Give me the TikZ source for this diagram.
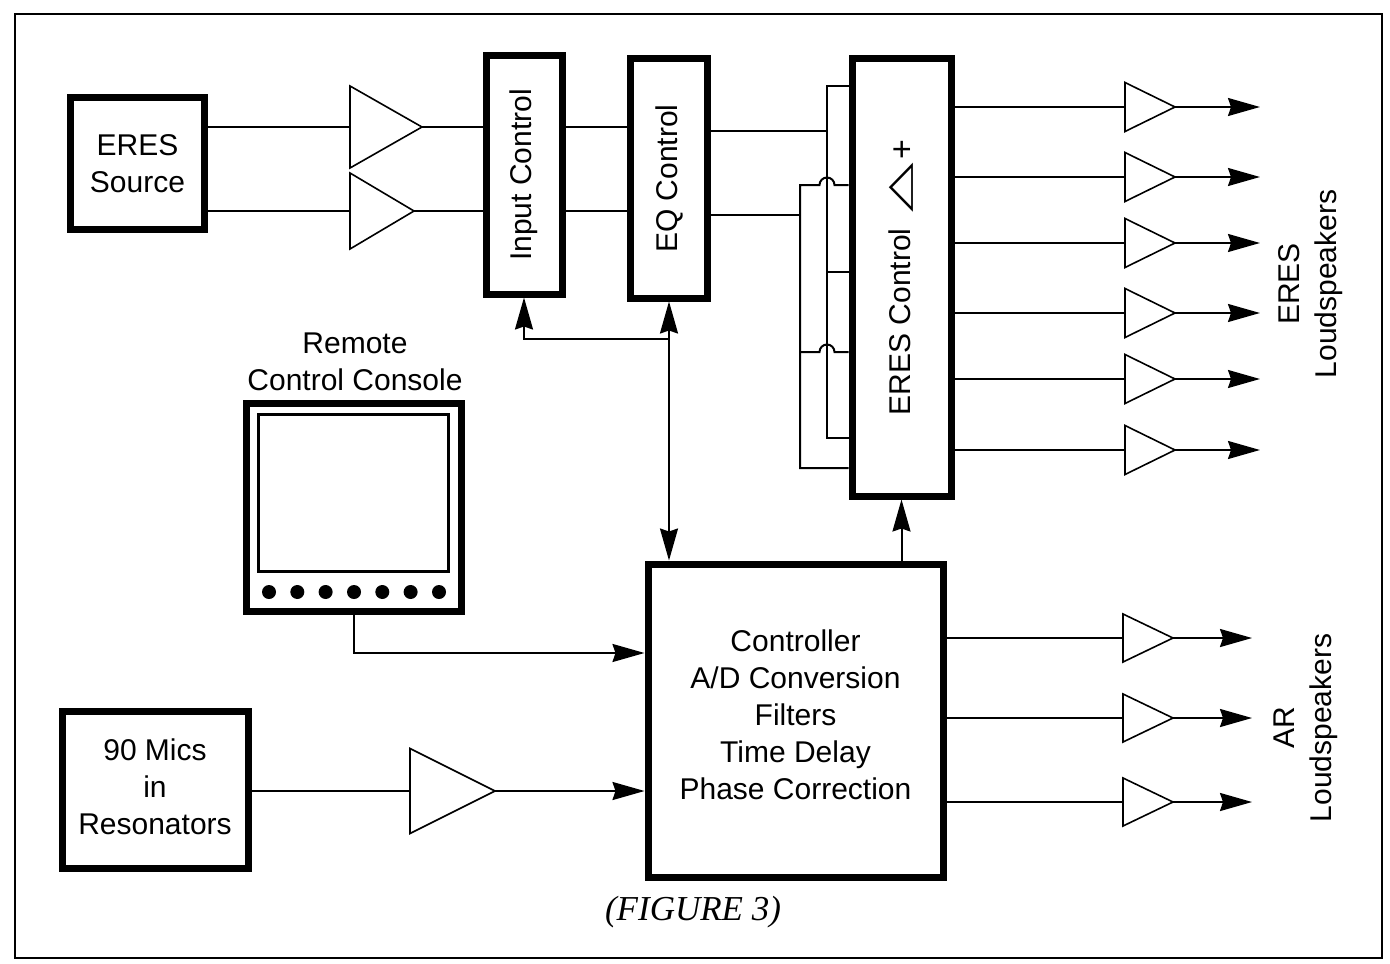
\documentclass[tikz,border=0pt]{standalone}
\usepackage{fontspec}
\setmainfont{Liberation Sans}
\newfontfamily\capfont{Liberation Serif}
\newfontfamily\symfont{DejaVu Sans}
\usepackage{graphicx}
\usetikzlibrary{arrows.meta,calc}
\tikzset{
  box/.style={draw, line width=3.5pt, inner sep=0pt, align=center, font=\fontsize{15pt}{18.5pt}\selectfont},
  wire/.style={line width=1pt},
  arr/.style={wire, -{Stealth[length=16pt,width=9pt,inset=1.5pt]}},
  ampbody/.style={line width=0.8pt, fill=white, line join=miter},
  lbl/.style={align=center, font=\fontsize{15pt}{18.5pt}\selectfont, inner sep=0pt},
  dot/.style={circle, fill, inner sep=0pt, minimum size=7pt},
}
\newcommand\ampl[6]{%
  \draw[ampbody] (#2,#3-#5/2) -- (#2+#4,#3) -- (#2,#3+#5/2) -- cycle;
  \coordinate (#1-in) at (#2,#3);
  \coordinate (#1-out) at (#2+#4,#3);
  \coordinate (#1-spk) at (#6,#3);
}
\begin{document}
\begin{tikzpicture}[x=0.5pt,y=-0.5pt]
\useasboundingbox (0,0) rectangle (1390,963);
\draw[line width=1.2pt] (15,14) rectangle (1382,958);

% boxes
\node[box, minimum width=67pt, minimum height=66pt] (src) at (137.5,163.5) {ERES\\Source};
\node[box, minimum width=38pt, minimum height=119pt] (inp) at (524,175) {\rotatebox{90}{Input Control}};
\node[box, minimum width=38.5pt, minimum height=119.5pt] (eq) at (669,178.5) {\rotatebox{90}{EQ Control}};
\node[box, minimum width=49.5pt, minimum height=218.5pt] (eres) at (901.5,277.5) {\rotatebox{90}{ERES Control\hspace{8pt}\raisebox{0.5pt}{\scalebox{2.15}[1.05]{\symfont △}}\hspace{1.5pt}\raisebox{-1.5pt}{\fontsize{17pt}{18pt}\selectfont +}}};
\node[box, minimum width=147.5pt, minimum height=156.5pt] (ctrl) at (795.5,720.5) {};
\node[lbl] (ctrltxt) at (ctrl.center) [yshift=3pt] {Controller\\A/D Conversion\\Filters\\Time Delay\\Phase Correction};
\node[box, minimum width=93pt, minimum height=78.5pt] (mics) at (155,789.5) {};
\node[lbl] (micstxt) at (mics.center) [yshift=1.5pt] {90 Mics\\in\\Resonators};
\node[box, minimum width=107.5pt, minimum height=104pt] (cons) at (354,507.5) {};
\node[draw, line width=1.5pt, inner sep=0pt, minimum width=95pt, minimum height=78.5pt] (screen) at (353.5,493) {};
\foreach \i/\x in {1/269,2/297.3,3/325.6,4/354,5/382.3,6/410.6,7/439} \node[dot] (d\i) at (\x,592) {};

% labels
\node[lbl] (conslbl) at (355,362) {Remote\\Control Console};
\node[lbl, rotate=90] (eresspk) at (1311,284) {ERES\\Loudspeakers};
\node[lbl, rotate=90] (arspk) at (1306,728) {AR\\Loudspeakers};
\node[font=\capfont\itshape\fontsize{17.5pt}{20pt}\selectfont, inner sep=0pt] (cap) at (693,912) {(FIGURE 3)};

% amplifiers
\ampl{a1}{350}{127}{72}{82}{0}
\ampl{a2}{350}{211}{64}{76}{0}
\ampl{m}{410}{791}{85}{85}{0}
\foreach \i/\y in {1/107,2/177,3/243,4/313,5/379,6/450} {\ampl{e\i}{1125}{\y}{50}{49}{1260}}
\foreach \i/\y in {1/638,2/718,3/802} {\ampl{c\i}{1123}{\y}{50}{48}{1252}}

% input chain
\draw[wire] (src.east |- a1-in) -- (a1-in);
\draw[wire] (src.east |- a2-in) -- (a2-in);
\draw[wire] (a1-out) -- (a1-out -| inp.west);
\draw[wire] (a2-out) -- (a2-out -| inp.west);
\draw[wire] (a1-out -| inp.east) -- (a1-out -| eq.west);
\draw[wire] (a2-out -| inp.east) -- (a2-out -| eq.west);

% buses into ERES control
\coordinate (aIn) at (827,131);
\coordinate (aT) at (827,86);
\coordinate (aM) at (827,272);
\coordinate (aB) at (827,438);
\coordinate (bIn) at (800,215);
\coordinate (bT) at (800,185);
\coordinate (bM) at (800,352);
\coordinate (bB) at (800,468);
\draw[wire] (eq.east |- aIn) -- (aIn);
\draw[wire] (eq.east |- bIn) -- (bIn);
\draw[wire] (aT -| eres.west) -- (aT) -- (aB) -- (aB -| eres.west);
\draw[wire] (aM) -- (aM -| eres.west);
\draw[wire] (bT -| eres.west) -- ($(bT -| aT)+(7.5,0)$) arc[start angle=0,end angle=180,radius=3.75pt] -- (bT) -- (bB) -- (bB -| eres.west);
\draw[wire] (bM -| eres.west) -- ($(bM -| aT)+(7.5,0)$) arc[start angle=0,end angle=180,radius=3.75pt] -- (bM);

% control connections
\path (eq.south) ++(0,37) coordinate (jn);
\draw[arr] (jn) -- (eq.south);
\draw[arr] (jn) -| (inp.south);
\draw[arr] (jn) -- (jn |- ctrl.north);
\draw[arr] (eres.south |- ctrl.north) -- (eres.south);
\coordinate (cj) at (0,653);
\draw[arr] (cons.south) |- (ctrl.west |- cj);
\draw[wire] (mics.east |- m-in) -- (m-in);
\draw[arr] (m-out) -- (m-out -| ctrl.west);

% outputs
\foreach \i in {1,...,6} {\draw[wire] (eres.east |- e\i-in) -- (e\i-in); \draw[arr] (e\i-out) -- (e\i-spk);}
\foreach \i in {1,2,3} {\draw[wire] (ctrl.east |- c\i-in) -- (c\i-in); \draw[arr] (c\i-out) -- (c\i-spk);}
\end{tikzpicture}
\end{document}
